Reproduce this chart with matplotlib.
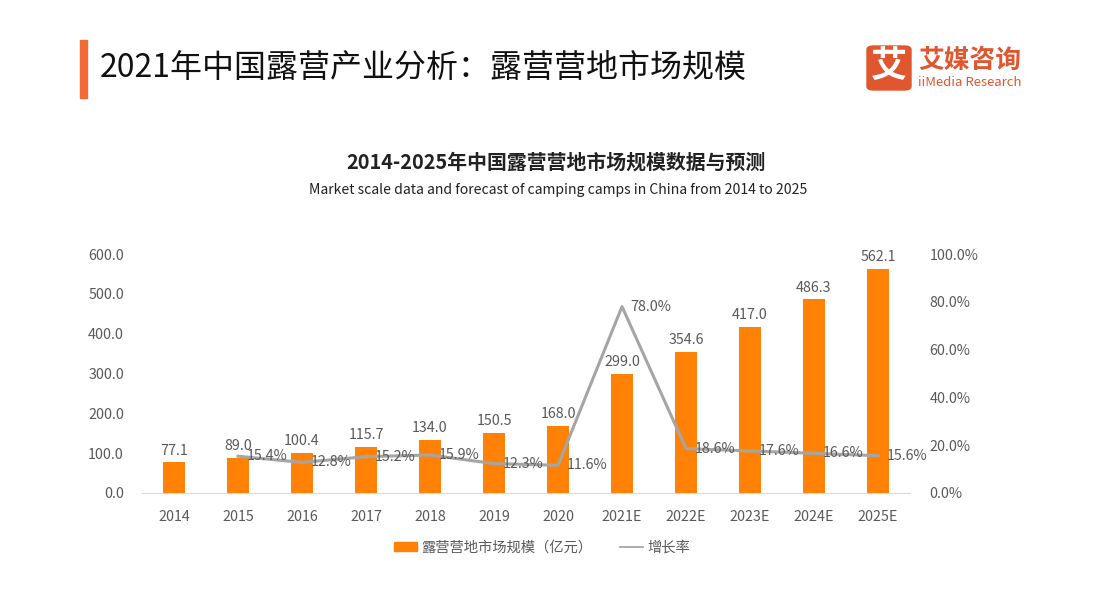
import matplotlib.pyplot as plt
from matplotlib.patches import Rectangle, FancyBboxPatch
from matplotlib.lines import Line2D
import numpy as np

plt.rcParams['font.family'] = ['Noto Sans CJK SC', 'DejaVu Sans']

years = ["2014", "2015", "2016", "2017", "2018", "2019", "2020",
         "2021E", "2022E", "2023E", "2024E", "2025E"]
market = [77.1, 89.0, 100.4, 115.7, 134.0, 150.5, 168.0,
          299.0, 354.6, 417.0, 486.3, 562.1]
growth_years = years[1:]
growth = [15.4, 12.8, 15.2, 15.9, 12.3, 11.6, 78.0, 18.6, 17.6, 16.6, 15.6]

ORANGE = "#FF8207"
GRAY_LINE = "#A5A5A5"
TXT = "#595959"

fig = plt.figure(figsize=(11.07, 6.04), dpi=100)

# header
fig.patches.append(Rectangle((80 / 1107, 1 - 98 / 604), 7 / 1107, 58 / 604,
                             transform=fig.transFigure, color="#F26A35"))
fig.text(100 / 1107, 1 - 68 / 604, "2021年中国露营产业分析：露营营地市场规模",
         fontsize=23, color="#111111", va="center", ha="left", fontweight="medium")

# logo
fig.patches.append(FancyBboxPatch((867 / 1107, 1 - 90 / 604), 44 / 1107, 44 / 604,
                                  boxstyle="round,pad=0,rounding_size=0.006",
                                  transform=fig.transFigure, color="#E0562E"))
fig.text(889 / 1107, 1 - 67 / 604, "艾", fontsize=26, color="white",
         ha="center", va="center", fontweight="bold")
fig.text(918 / 1107, 1 - 60 / 604, "艾媒咨询", fontsize=18.5, color="#E0562E",
         ha="left", va="center", fontweight="bold")
fig.text(918 / 1107, 1 - 82 / 604, "iiMedia Research", fontsize=9.5, color="#E0562E",
         ha="left", va="center")

# chart titles
fig.text(556 / 1107, 1 - 162 / 604, "2014-2025年中国露营营地市场规模数据与预测",
         fontsize=14.3, fontweight="bold", color="#222222", ha="center", va="center")
fig.text(558 / 1107, 1 - 190 / 604,
         "Market scale data and forecast of camping camps in China from 2014 to 2025",
         fontsize=10.1, color="#222222", ha="center", va="center")

ax = fig.add_axes([142 / 1107, 1 - 493 / 604, 768 / 1107, 239 / 604])
x = np.arange(len(years))
bars = ax.bar(x, market, width=0.33, color=ORANGE, zorder=2)
for xi, v in zip(x, market):
    ax.text(xi, v + 12, f"{v:.1f}", ha="center", va="bottom", fontsize=10.3, color=TXT)

ax.set_xlim(-0.5, len(years) - 0.5)
ax.set_ylim(0, 600)
ax.set_yticks(np.arange(0, 601, 100))
ax.set_yticklabels([f"{v:.1f}" for v in np.arange(0, 601, 100)])
ax.set_xticks(x)
ax.set_xticklabels(years)
ax.tick_params(axis="both", length=0, labelsize=10.3, colors=TXT)
ax.tick_params(axis="y", pad=13)
ax.tick_params(axis="x", pad=12)
for s in ["top", "right", "left"]:
    ax.spines[s].set_visible(False)
ax.spines["bottom"].set_color("#D9D9D9")

ax2 = ax.twinx()
gx = x[1:]
ax2.plot(gx, growth, color=GRAY_LINE, lw=2.2, zorder=3)
for xi, v in zip(gx, growth):
    ax2.text(xi + 0.13, v, f"{v:.1f}%", ha="left", va="center", fontsize=10.3, color=TXT)
ax2.set_ylim(0, 100)
ax2.set_yticks(np.arange(0, 101, 20))
ax2.set_yticklabels([f"{v:.1f}%" for v in np.arange(0, 101, 20)])
ax2.tick_params(axis="y", length=0, labelsize=10.3, colors=TXT, pad=14)
for s in ax2.spines.values():
    s.set_visible(False)

bar_handle = Rectangle((0, 0), 1, 1, color=ORANGE)
line_handle = Line2D([], [], color=GRAY_LINE, lw=1.3)
fig.legend(handles=[bar_handle, line_handle],
           labels=["露营营地市场规模（亿元）", "增长率"],
           loc="center", bbox_to_anchor=(542 / 1107, 1 - 548 / 604),
           ncol=2, frameon=False, fontsize=10.3, labelcolor=TXT,
           handlelength=1.6, handleheight=0.6, handletextpad=0.3, columnspacing=2.0)

fig.savefig("out.png", dpi=100)
